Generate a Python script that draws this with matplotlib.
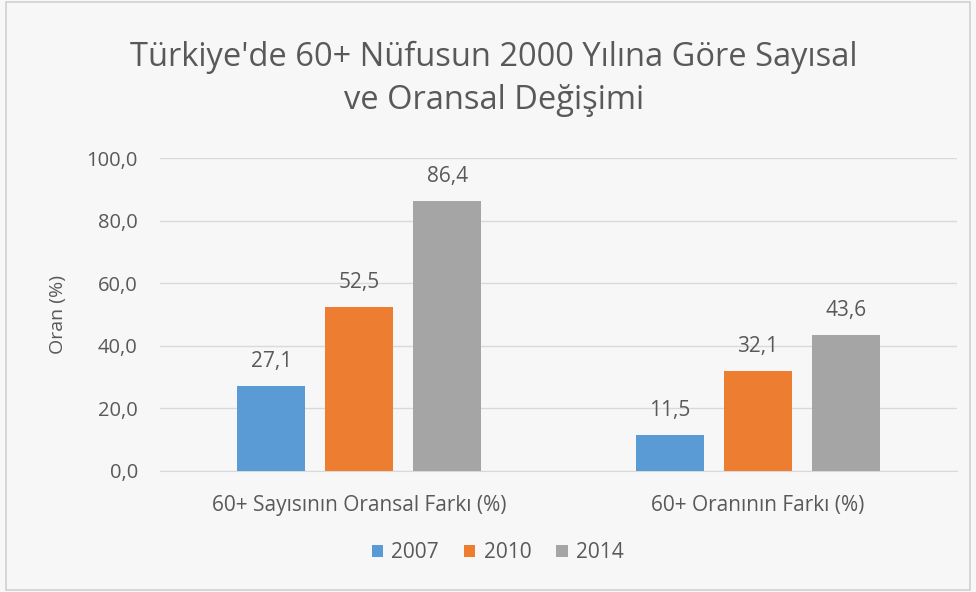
import matplotlib.pyplot as plt
from matplotlib.patches import Rectangle
import numpy as np

plt.rcParams['font.family'] = ['Open Sans', 'DejaVu Sans']

# Data
categories = ["60+ Sayısının Oransal Farkı (%)", "60+ Oranının Farkı (%)"]
years = ["2007", "2010", "2014"]
values_2007 = [27.1, 11.5]
values_2010 = [52.5, 32.1]
values_2014 = [86.4, 43.6]
yticks = [0, 20, 40, 60, 80, 100]

colors = ["#5B9BD5", "#ED7D31", "#A5A5A5"]
text_col = "#595959"
bg = "#F7F7F7"


def fmt(v):
    return f"{v:.1f}".replace(".", ",")


fig = plt.figure(figsize=(9.76, 5.92), dpi=100, facecolor=bg)
fig.patches.append(Rectangle((0.006, 0.003), 0.988, 0.994, transform=fig.transFigure,
                             fill=False, edgecolor="#D0D0D0", linewidth=1.2))
ax = fig.add_axes([0.164, 0.2044, 0.8165, 0.5287], facecolor=bg)

x = np.arange(len(categories))
width = 0.17
offset = 0.221
series = [values_2007, values_2010, values_2014]
for i, (vals, year, c) in enumerate(zip(series, years, colors)):
    pos = x + (i - 1) * offset
    ax.bar(pos, vals, width, color=c, label=year, zorder=3)
    for p, v in zip(pos, vals):
        ax.text(p, v + 7.8, fmt(v), ha="center", va="center",
                fontsize=15, color=text_col)

ax.set_xlim(-0.5, 1.5)
ax.set_ylim(0, 100)
ax.set_yticks(yticks)
ax.set_yticklabels([fmt(t) for t in yticks], fontsize=14.5, color=text_col)
ax.set_xticks(x)
ax.set_xticklabels(categories, fontsize=15, color=text_col)
ax.tick_params(axis="both", length=0)
ax.tick_params(axis="y", pad=16)
ax.tick_params(axis="x", pad=17)
ax.grid(axis="y", color="#D9D9D9", linewidth=1, zorder=0)
for s in ["top", "right", "left"]:
    ax.spines[s].set_visible(False)
ax.spines["bottom"].set_color("#D9D9D9")
ax.set_ylabel("Oran (%)", fontsize=14, color=text_col, labelpad=14)

fig.text(0.506, 0.867, "Türkiye'de 60+ Nüfusun 2000 Yılına Göre Sayısal\nve Oransal Değişimi",
         ha="center", va="center", fontsize=23.5, color=text_col, linespacing=1.38)

fig.legend(loc="center", bbox_to_anchor=(0.51, 0.066), ncol=3, frameon=False,
           fontsize=15, labelcolor=text_col, handlelength=0.55, handleheight=0.55,
           handletextpad=0.4, columnspacing=1.2)

fig.savefig("out.png", dpi=100, facecolor=bg)
